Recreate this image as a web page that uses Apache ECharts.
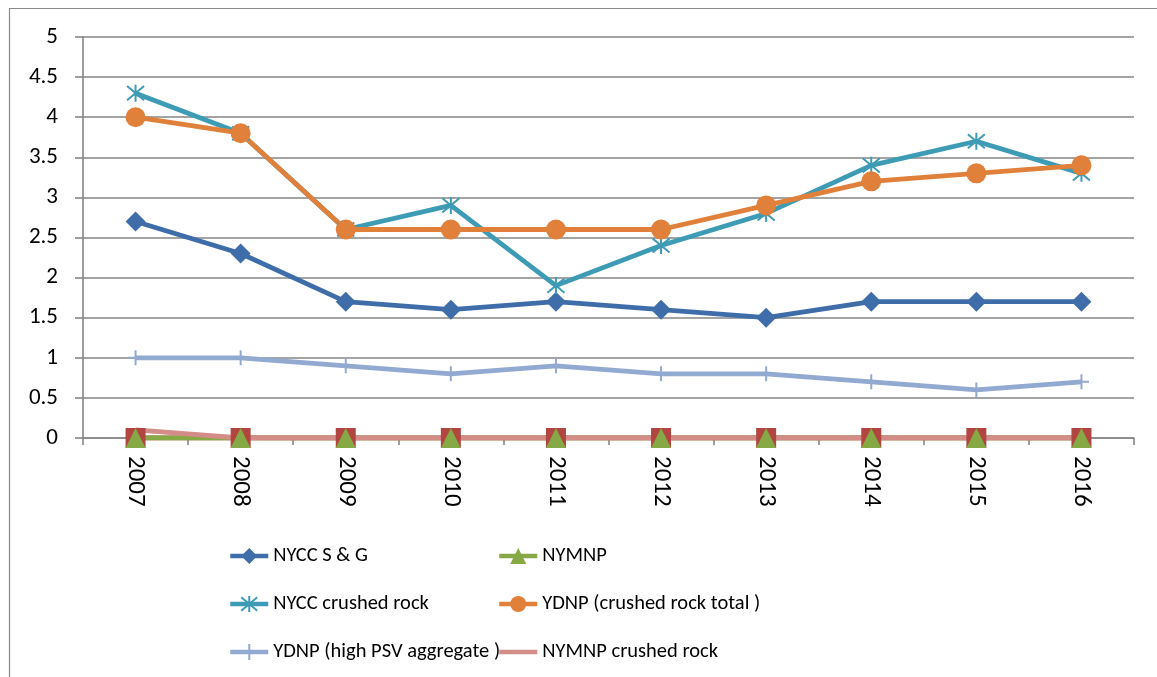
<!DOCTYPE html>
<html>
<head>
<meta charset="utf-8">
<script src="https://cdn.jsdelivr.net/npm/echarts@6/dist/echarts.min.js"></script>
<style>
  html, body { margin: 0; padding: 0; background: #fff; }
  #main { width: 1157px; height: 677px; }
</style>
</head>
<body>
<div id="main"></div>
<script>
var years = ['2007', '2008', '2009', '2010', '2011', '2012', '2013', '2014', '2015', '2016'];

var nyccSG = [2.7, 2.3, 1.7, 1.6, 1.7, 1.6, 1.5, 1.7, 1.7, 1.7];
var unlabelled = [0, 0, 0, 0, 0, 0, 0, 0, 0, 0];
var nymnp = [0, 0, 0, 0, 0, 0, 0, 0, 0, 0];
var nyccCrushed = [4.3, 3.8, 2.6, 2.9, 1.9, 2.4, 2.8, 3.4, 3.7, 3.3];
var ydnpTotal = [4.0, 3.8, 2.6, 2.6, 2.6, 2.6, 2.9, 3.2, 3.3, 3.4];
var ydnpPSV = [1.0, 1.0, 0.9, 0.8, 0.9, 0.8, 0.8, 0.7, 0.6, 0.7];
var nymnpCrushed = [0.1, 0, 0, 0, 0, 0, 0, 0, 0, 0];

var font = 'Carlito, "Liberation Sans Narrow", "Liberation Sans", sans-serif';
var starPath = 'path://M0,0L10,10M10,0L0,10M5,-1L5,11';
var plusPath = 'path://M5,0L5,10M0,5L10,5';

var myChart = echarts.init(document.getElementById('main'));

function lineSeries(name, data, color, symbol, size, extra) {
    var s = {
        name: name,
        type: 'line',
        data: data,
        symbol: symbol,
        symbolSize: size,
        showAllSymbol: true,
        animation: false,
        lineStyle: { color: color, width: 4.8 },
        itemStyle: { color: color }
    };
    if (extra) {
        for (var k in extra) s[k] = extra[k];
    }
    return s;
}

var legendText = { color: '#000', fontSize: 20.5, fontFamily: font, lineHeight: 26 };

var option = {
    backgroundColor: '#fff',
    graphic: [{
        type: 'rect',
        left: 7, top: 6,
        shape: { width: 1170, height: 690 },
        style: { fill: 'none', stroke: '#8a8a8a', lineWidth: 1.2 },
        silent: true
    }],
    grid: { left: 83, right: 23, top: 37, bottom: 239 },
    legend: [{
        orient: 'vertical',
        left: 223,
        top: 538,
        itemWidth: 38,
        itemHeight: 20,
        itemGap: 22,
        lineStyle: { width: 4.5 },
        textStyle: legendText,
        data: ['NYCC S & G', 'NYCC crushed rock', 'YDNP (high PSV aggregate )']
    }, {
        orient: 'vertical',
        left: 492,
        top: 538,
        itemWidth: 38,
        itemHeight: 20,
        itemGap: 22,
        lineStyle: { width: 4.5 },
        textStyle: legendText,
        data: ['NYMNP', 'YDNP (crushed rock total )',
            { name: 'NYMNP crushed rock', itemStyle: { opacity: 0 } }]
    }],
    xAxis: {
        type: 'category',
        data: years,
        boundaryGap: true,
        axisLine: { lineStyle: { color: '#868686', width: 1.6 } },
        axisTick: { show: true, length: 7, lineStyle: { color: '#868686', width: 1.6 } },
        axisLabel: { rotate: -90, margin: 18, color: '#000', fontSize: 25, fontFamily: font }
    },
    yAxis: {
        type: 'value',
        min: 0,
        max: 5,
        interval: 0.5,
        axisLine: { show: true, lineStyle: { color: '#868686', width: 1.6 } },
        axisTick: { show: true, length: 8, lineStyle: { color: '#868686', width: 1.6 } },
        splitLine: { lineStyle: { color: '#868686', width: 1.6 } },
        axisLabel: { margin: 25, color: '#000', fontSize: 23, fontFamily: font }
    },
    series: [
        lineSeries('(unlabelled)', unlabelled, '#b0463f', 'rect', 20),
        lineSeries('NYCC S & G', nyccSG, '#3f6da9', 'diamond', 20),
        lineSeries('NYMNP', nymnp, '#86a845', 'triangle', 20),
        lineSeries('NYCC crushed rock', nyccCrushed, '#3e9bb5', starPath, 17, {
            itemStyle: { color: 'none', borderColor: '#3e9bb5', borderWidth: 2 }
        }),
        lineSeries('YDNP (crushed rock total )', ydnpTotal, '#e0803a', 'circle', 20),
        lineSeries('YDNP (high PSV aggregate )', ydnpPSV, '#92a9d1', plusPath, 15, {
            itemStyle: { color: 'none', borderColor: '#92a9d1', borderWidth: 2 }
        }),
        lineSeries('NYMNP crushed rock', nymnpCrushed, '#d48c89', 'none', 0)
    ]
};
myChart.setOption(option);
</script>
</body>
</html>
